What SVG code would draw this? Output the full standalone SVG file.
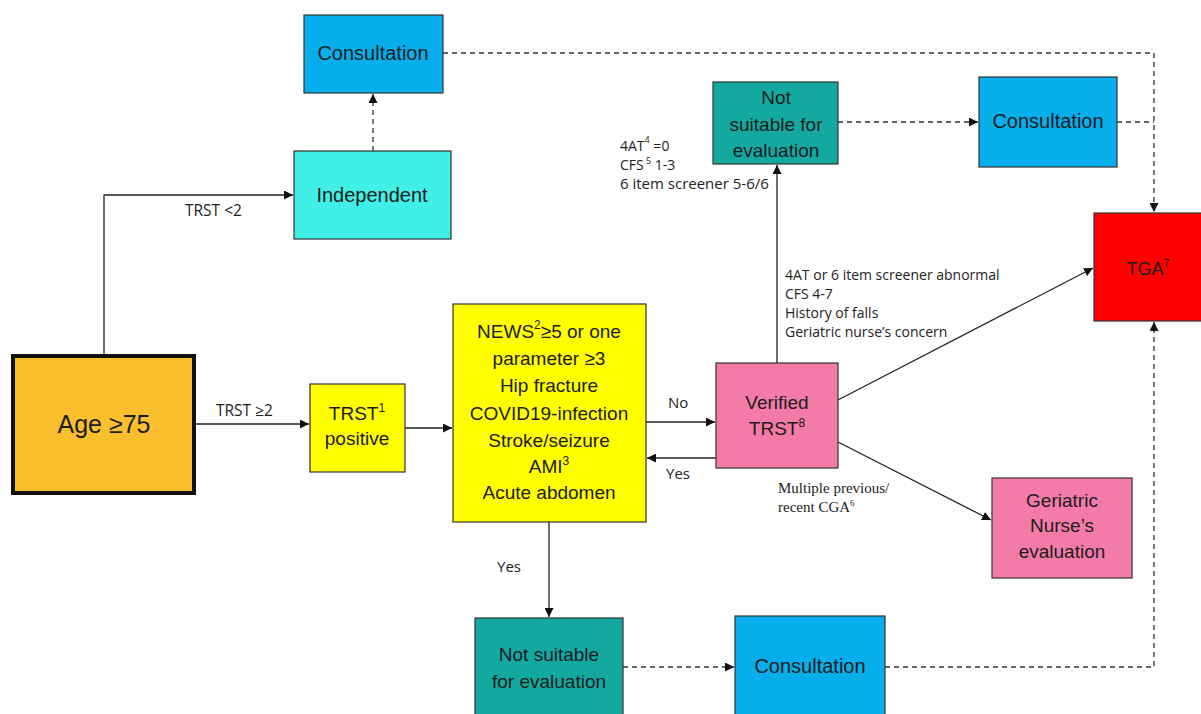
<svg xmlns="http://www.w3.org/2000/svg" width="1201" height="714" viewBox="0 0 1201 714">
<defs>
<marker id="ah" viewBox="0 0 10 10" refX="10" refY="5" markerWidth="9" markerHeight="9" markerUnits="userSpaceOnUse" orient="auto"><path d="M0,0 L10,5 L0,10 z" fill="#111"/></marker>
<style>
.box{stroke:#333;stroke-width:1.2}
.t{font-family:"Liberation Sans",Arial,sans-serif;fill:#1c1c1c;text-anchor:middle}
.s{font-family:"Open Sans","Liberation Sans",sans-serif;fill:#222;font-size:14px}
.sr{font-family:"Liberation Serif","Times New Roman",serif;fill:#222;font-size:15px}
.ln{fill:none;stroke:#222;stroke-width:1.3}
.dl{fill:none;stroke:#333;stroke-width:1.3;stroke-dasharray:5 4}
.blue{fill:#06aeeb}
.teal{fill:#13a9a1}
.pink{fill:#f47aa8}
.yel{fill:#ffff00}
</style>
</defs>
<rect width="1201" height="714" fill="#fff"/>
<g id="connectors">
<path class="ln" d="M104,354 V195 H293" marker-end="url(#ah)"/>
<path class="dl" d="M373,151 V94" marker-end="url(#ah)"/>
<path class="dl" d="M443,53 H1154 V212" marker-end="url(#ah)"/>
<path class="dl" d="M1117,122 H1154"/>
<path class="dl" d="M838,122 H978" marker-end="url(#ah)"/>
<path class="ln" d="M196,424 H309" marker-end="url(#ah)"/>
<path class="ln" d="M405,428 H452" marker-end="url(#ah)"/>
<path class="ln" d="M646,422 H715" marker-end="url(#ah)"/>
<path class="ln" d="M716,458 H647" marker-end="url(#ah)"/>
<path class="ln" d="M777,363 V165" marker-end="url(#ah)"/>
<path class="ln" d="M838,400 L1093,268" marker-end="url(#ah)"/>
<path class="ln" d="M838,442 L991,520" marker-end="url(#ah)"/>
<path class="ln" d="M549,522 V617" marker-end="url(#ah)"/>
<path class="dl" d="M623,667 H734" marker-end="url(#ah)"/>
<path class="dl" d="M885,667 H1154 V322" marker-end="url(#ah)"/>
<text class="s" x="185" y="216" style="font-size:15.5px">TRST &lt;2</text>
<text class="s" x="216" y="416" style="font-size:15.5px">TRST ≥2</text>
<text class="s" x="668" y="408" style="font-size:15px">No</text>
<text class="s" x="666" y="479" style="font-size:15px">Yes</text>
<text class="s" x="497" y="572" style="font-size:15px">Yes</text>
<text class="s" x="620" y="151">4AT<tspan dy="-8" font-size="9">4</tspan><tspan dy="8"> =0</tspan></text>
<text class="s" x="620" y="170">CFS<tspan dy="-6" font-size="9"> 5</tspan><tspan dy="6"> 1-3</tspan></text>
<text class="s" x="620" y="189" style="font-size:15px">6 item screener 5-6/6</text>
<text class="s" x="785" y="280">4AT or 6 item screener abnormal</text>
<text class="s" x="785" y="299">CFS 4-7</text>
<text class="s" x="785" y="318">History of falls</text>
<text class="s" x="785" y="337">Geriatric nurse’s concern</text>
<text class="sr" x="778" y="493">Multiple previous/</text>
<text class="sr" x="778" y="512">recent CGA<tspan dy="-6" font-size="9">6</tspan></text>
</g>
<g id="consultation-top"><rect class="box blue" x="304" y="15" width="139" height="78"/><text class="t" x="373" y="60" font-size="20">Consultation</text></g>
<g id="independent"><rect class="box" fill="#40f0e6" x="294" y="151" width="157" height="88"/><text class="t" x="372" y="202" font-size="20">Independent</text></g>
<g id="age"><rect x="13" y="356" width="181" height="137" fill="#fbbf2e" stroke="#111" stroke-width="4"/><text class="t" x="104" y="433" font-size="25">Age ≥75</text></g>
<g id="trst-positive"><rect class="box yel" x="310" y="384" width="95" height="88"/><text class="t" x="357" y="420" font-size="19">TRST<tspan dy="-8" font-size="12">1</tspan></text><text class="t" x="357" y="445" font-size="19">positive</text></g>
<g id="criteria"><rect class="box yel" x="453" y="304" width="193" height="218"/>
<text class="t" x="549" y="338" font-size="19">NEWS<tspan dy="-9" font-size="12">2</tspan><tspan dy="9">≥5 or one</tspan></text>
<text class="t" x="549" y="365" font-size="19">parameter  ≥3</text>
<text class="t" x="549" y="392" font-size="19">Hip fracture</text>
<text class="t" x="549" y="420" font-size="19">COVID19-infection</text>
<text class="t" x="549" y="447" font-size="19">Stroke/seizure</text>
<text class="t" x="549" y="473" font-size="19">AMI<tspan dy="-8" font-size="12">3</tspan></text>
<text class="t" x="549" y="499" font-size="19">Acute abdomen</text></g>
<g id="verified-trst"><rect class="box pink" x="716" y="363" width="122" height="105"/><text class="t" x="777" y="409" font-size="19">Verified</text><text class="t" x="777" y="435" font-size="19">TRST<tspan dy="-8" font-size="12">8</tspan></text></g>
<g id="not-suitable-top"><rect class="box teal" x="713" y="82" width="125" height="82"/><text class="t" x="776" y="104" font-size="19">Not</text><text class="t" x="776" y="131" font-size="19">suitable for</text><text class="t" x="776" y="157" font-size="19">evaluation</text></g>
<g id="consultation-right"><rect class="box blue" x="979" y="77" width="138" height="90"/><text class="t" x="1048" y="128" font-size="20">Consultation</text></g>
<g id="tga"><rect x="1094" y="213" width="110" height="108" fill="#fe0000" stroke="#333" stroke-width="1.2"/><text class="t" x="1148" y="275" font-size="18">TGA<tspan dy="-8" font-size="11">7</tspan></text></g>
<g id="geriatric-nurse"><rect class="box pink" x="992" y="478" width="140" height="100"/><text class="t" x="1062" y="507" font-size="19">Geriatric</text><text class="t" x="1062" y="532" font-size="19">Nurse’s</text><text class="t" x="1062" y="558" font-size="19">evaluation</text></g>
<g id="not-suitable-bottom"><rect class="box teal" x="475" y="618" width="148" height="100"/><text class="t" x="549" y="661" font-size="19">Not suitable</text><text class="t" x="549" y="688" font-size="19">for evaluation</text></g>
<g id="consultation-bottom"><rect class="box blue" x="735" y="616" width="150" height="102"/><text class="t" x="810" y="673" font-size="20">Consultation</text></g>
</svg>
